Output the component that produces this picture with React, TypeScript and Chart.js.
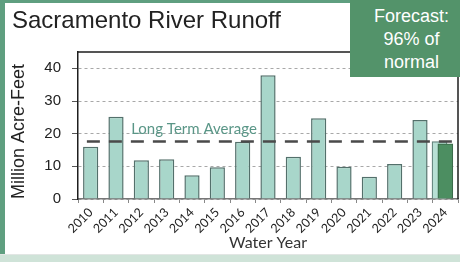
import React, { useEffect, useRef } from 'react';
import { Chart, registerables } from 'chart.js';
Chart.register(...registerables);

const years = ['2010', '2011', '2012', '2013', '2014', '2015', '2016', '2017', '2018', '2019', '2020', '2021', '2022', '2023', '2024'];
const runoff: (number | null)[] = [16.0, 25.2, 11.9, 12.2, 7.3, 9.7, 17.5, 37.9, 12.9, 24.7, 9.9, 6.8, 10.7, 24.2, null];
const normal2024 = 17.6;
const forecast2024 = 16.9;
const longTermAverage = 17.6;
const yTickValues = [0, 10, 20, 30, 40];
const titleText = 'Sacramento River Runoff';
const forecastLines = ['Forecast:', '96% of', 'normal'];
const avgLabel = 'Long Term Average';

const frameAndLabel = {
  id: 'frameAndLabel',
  afterDatasetsDraw(chart: any) {
    const { ctx, chartArea, scales } = chart;
    ctx.save();
    ctx.strokeStyle = '#1e1e1e';
    ctx.lineWidth = 1.5;
    ctx.beginPath();
    ctx.moveTo(chartArea.left, chartArea.top);
    ctx.lineTo(chartArea.right, chartArea.top);
    ctx.lineTo(chartArea.right, chartArea.bottom);
    ctx.stroke();
    const y = scales.y.getPixelForValue(longTermAverage) - 7.5;
    const x = scales.xo.getPixelForValue(1.6);
    ctx.font = '15px Lato';
    ctx.fillStyle = '#5a9687';
    ctx.textAlign = 'left';
    ctx.textBaseline = 'alphabetic';
    ctx.fillText(avgLabel, x, y);
    ctx.restore();
  },
};

export default function App() {
  const ref = useRef<HTMLCanvasElement>(null);
  useEffect(() => {
    const last = years.length - 1;
    const chart = new Chart(ref.current!, {
      type: 'bar',
      data: {
        labels: years,
        datasets: [
          {
            type: 'line',
            label: 'Long Term Average',
            xAxisID: 'xo',
            data: [
              { x: -0.15, y: longTermAverage },
              { x: last + 0.28, y: longTermAverage },
            ],
            borderColor: '#4a4a4a',
            borderWidth: 2.5,
            borderDash: [13, 9],
            pointRadius: 0,
            fill: false,
            order: 0,
          } as any,
          {
            label: 'Runoff',
            data: runoff,
            backgroundColor: '#a8d6ca',
            borderColor: '#53706b',
            borderWidth: 1.5,
            categoryPercentage: 1,
            barPercentage: 0.6,
            grouped: false,
            order: 3,
          },
          {
            label: 'Normal 2024',
            xAxisID: 'xo',
            data: [{ x: last - 0.23, y: normal2024 }],
            backgroundColor: '#b8e0d5',
            borderColor: '#5f7f78',
            borderWidth: 1.2,
            barThickness: 15,
            grouped: false,
            order: 2,
          } as any,
          {
            label: 'Forecast 2024',
            xAxisID: 'xo',
            data: [{ x: last, y: forecast2024 }],
            backgroundColor: '#4c8e61',
            borderColor: '#3b6c4b',
            borderWidth: 1.2,
            barThickness: 15,
            grouped: false,
            order: 1,
          } as any,
        ],
      },
      options: {
        responsive: false,
        animation: false,
        devicePixelRatio: 1,
        layout: { padding: { left: 5, top: 52, right: 2, bottom: 8 } },
        plugins: { legend: { display: false }, tooltip: { enabled: false } },
        scales: {
          x: {
            type: 'category',
            offset: true,
            afterFit: (s: any) => { s.height = 55; },
            grid: { drawOnChartArea: false, tickLength: 4, color: '#888', offset: true },
            border: { color: '#777', width: 1.5 },
            ticks: {
              autoSkip: false,
              minRotation: 45,
              maxRotation: 45,
              padding: 2,
              color: '#222',
              font: { family: 'Lato', size: 12.5 },
            },
            title: {
              display: true,
              text: 'Water Year',
              color: '#333',
              font: { family: 'Lato', size: 16 },
              padding: { top: 0, bottom: 1.5 },
            },
          },
          xo: {
            type: 'linear',
            display: false,
            offset: false,
            min: -0.5,
            max: years.length - 0.5,
          },
          y: {
            min: 0,
            max: 45,
            afterFit: (s: any) => { s.width = 73; },
            afterBuildTicks: (s: any) => { s.ticks = yTickValues.map((v) => ({ value: v })); },
            grid: {
              color: '#a8a8a8',
              tickLength: 6,
              tickColor: '#555',
              lineWidth: 1,
            },
            border: { color: '#1e1e1e', width: 1.5, dash: [3, 3] } as any,
            ticks: {
              padding: 11,
              color: '#222',
              font: { family: 'Liberation Sans', size: 15 },
            },
            title: {
              display: true,
              text: 'Million Acre-Feet',
              align: 'start',
              color: '#222',
              font: { family: 'Liberation Sans', size: 18 },
              padding: { top: 3, bottom: 0 },
            },
          },
        },
      },
      plugins: [frameAndLabel],
    });
    return () => chart.destroy();
  }, []);

  return (
    <div style={{ position: 'fixed', left: 0, top: 0, width: 460, height: 262, background: '#fff', overflow: 'hidden' }}>
      <canvas ref={ref} width={460} height={262} style={{ position: 'absolute', left: 0, top: 0, width: 460, height: 262 }} />
      <div style={{ position: 'absolute', left: 0, top: 0, width: 5, height: 262, background: '#5f9f80' }} />
      <div style={{ position: 'absolute', left: 0, top: 0, width: 460, height: 3, background: '#5f9f80' }} />
      <div style={{ position: 'absolute', left: 0, top: 254, width: 460, height: 8, background: '#cfe3d8', borderTop: '1px solid #e2e6e4' }} />
      <div style={{ position: 'absolute', left: 12, top: 8, fontFamily: 'Liberation Sans', fontSize: 24, lineHeight: '24px', color: '#222', whiteSpace: 'nowrap' }}>{titleText}</div>
      <div style={{ position: 'absolute', left: 350, top: 0, width: 110, height: 77, boxSizing: 'border-box', paddingLeft: 13, paddingTop: 5, background: '#53936a', color: '#fff', fontFamily: 'Liberation Sans', fontSize: 18, lineHeight: '23px', textAlign: 'center' }}>
        {forecastLines.map((l, i) => (<div key={i}>{l}</div>))}
      </div>
    </div>
  );
}
